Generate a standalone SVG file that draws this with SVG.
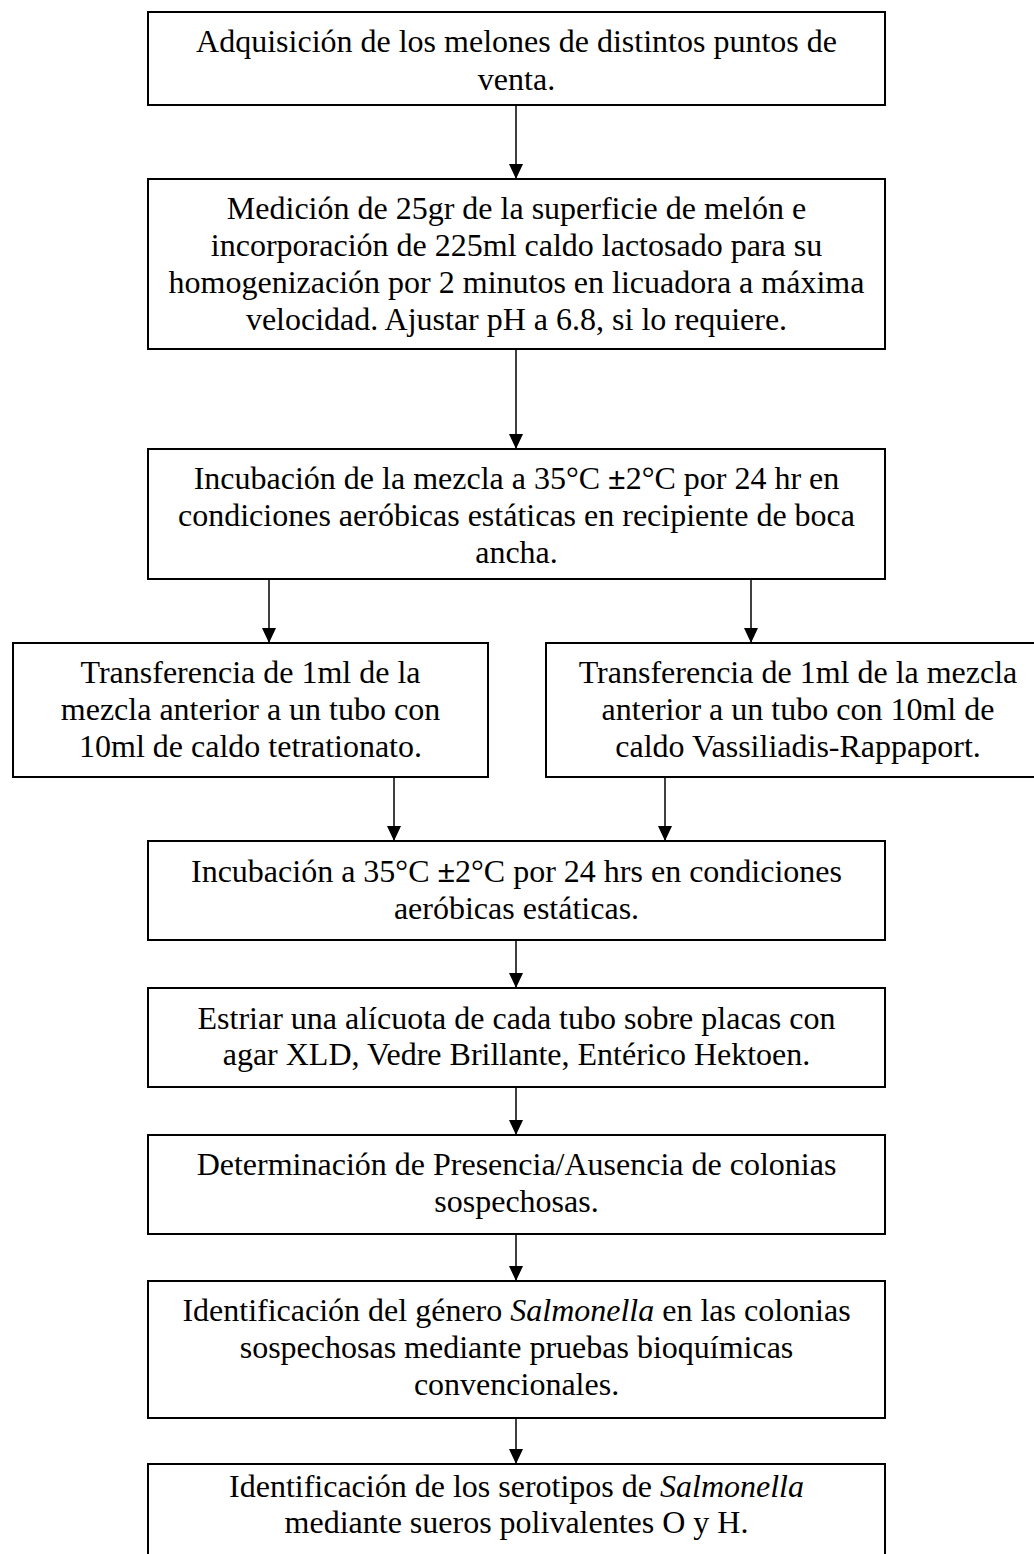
<svg xmlns="http://www.w3.org/2000/svg" width="1034" height="1554" viewBox="0 0 1034 1554">
<style>
.box{fill:#fff;stroke:#000;stroke-width:2}
.t{font-family:"Liberation Serif","Times New Roman",serif;font-size:32px;fill:#000;text-anchor:middle}
.c{stroke:#000;stroke-width:1.5;fill:none;marker-end:url(#ah)}
.pm{font-weight:bold}
.i{font-style:italic}
</style>
<defs>
<marker id="ah" markerUnits="userSpaceOnUse" markerWidth="15" markerHeight="14" viewBox="0 0 15 14" refX="15" refY="7" orient="auto">
<path d="M0,0 L15,7 L0,14 z" fill="#000"/>
</marker>
</defs>
<rect width="1034" height="1554" fill="#fff"/>
<g id="connectors">
<line class="c" x1="516" y1="105" x2="516" y2="179"/>
<line class="c" x1="516" y1="349" x2="516" y2="449"/>
<line class="c" x1="269" y1="579" x2="269" y2="643"/>
<line class="c" x1="751" y1="579" x2="751" y2="643"/>
<line class="c" x1="394" y1="777" x2="394" y2="841"/>
<line class="c" x1="665" y1="777" x2="665" y2="841"/>
<line class="c" x1="516" y1="940" x2="516" y2="988"/>
<line class="c" x1="516" y1="1087" x2="516" y2="1135"/>
<line class="c" x1="516" y1="1234" x2="516" y2="1281"/>
<line class="c" x1="516" y1="1418" x2="516" y2="1464"/>
</g>
<g id="n1">
<rect class="box" x="148" y="12" width="737" height="93"/>
<text class="t" x="516.5" y="52">Adquisición de los melones de distintos puntos de</text>
<text class="t" x="516.5" y="90">venta.</text>
</g>
<g id="n2">
<rect class="box" x="148" y="179" width="737" height="170"/>
<text class="t" x="516.5" y="219">Medición de 25gr de la superficie de melón e</text>
<text class="t" x="516.5" y="256">incorporación de 225ml caldo lactosado para su</text>
<text class="t" x="516.5" y="293">homogenización por 2 minutos en licuadora a máxima</text>
<text class="t" x="516.5" y="330">velocidad. Ajustar pH a 6.8, si lo requiere.</text>
</g>
<g id="n3">
<rect class="box" x="148" y="449" width="737" height="130"/>
<text class="t" x="516.5" y="489">Incubación de la mezcla a 35°C <tspan class="pm">±</tspan>2°C por 24 hr en</text>
<text class="t" x="516.5" y="526">condiciones aeróbicas estáticas en recipiente de boca</text>
<text class="t" x="516.5" y="563">ancha.</text>
</g>
<g id="n4a">
<rect class="box" x="13" y="643" width="475" height="134"/>
<text class="t" x="250.5" y="683">Transferencia de 1ml de la</text>
<text class="t" x="250.5" y="720">mezcla anterior a un tubo con</text>
<text class="t" x="250.5" y="757">10ml de caldo tetrationato.</text>
</g>
<g id="n4b">
<rect class="box" x="546" y="643" width="504" height="134"/>
<text class="t" x="798" y="683">Transferencia de 1ml de la mezcla</text>
<text class="t" x="798" y="720">anterior a un tubo con 10ml de</text>
<text class="t" x="798" y="757">caldo Vassiliadis-Rappaport.</text>
</g>
<g id="n5">
<rect class="box" x="148" y="841" width="737" height="99"/>
<text class="t" x="516.5" y="882">Incubación a 35°C <tspan class="pm">±</tspan>2°C por 24 hrs en condiciones</text>
<text class="t" x="516.5" y="919">aeróbicas estáticas.</text>
</g>
<g id="n6">
<rect class="box" x="148" y="988" width="737" height="99"/>
<text class="t" x="516.5" y="1029">Estriar una alícuota de cada tubo sobre placas con</text>
<text class="t" x="516.5" y="1065">agar XLD, Vedre Brillante, Entérico Hektoen.</text>
</g>
<g id="n7">
<rect class="box" x="148" y="1135" width="737" height="99"/>
<text class="t" x="516.5" y="1175">Determinación de Presencia/Ausencia de colonias</text>
<text class="t" x="516.5" y="1212">sospechosas.</text>
</g>
<g id="n8">
<rect class="box" x="148" y="1281" width="737" height="137"/>
<text class="t" x="516.5" y="1321">Identificación del género <tspan class="i">Salmonella</tspan> en las colonias</text>
<text class="t" x="516.5" y="1358">sospechosas mediante pruebas bioquímicas</text>
<text class="t" x="516.5" y="1395">convencionales.</text>
</g>
<g id="n9">
<rect class="box" x="148" y="1464" width="737" height="110"/>
<text class="t" x="516.5" y="1497">Identificación de los serotipos de <tspan class="i">Salmonella</tspan></text>
<text class="t" x="516.5" y="1533">mediante sueros polivalentes O y H.</text>
</g>
</svg>
